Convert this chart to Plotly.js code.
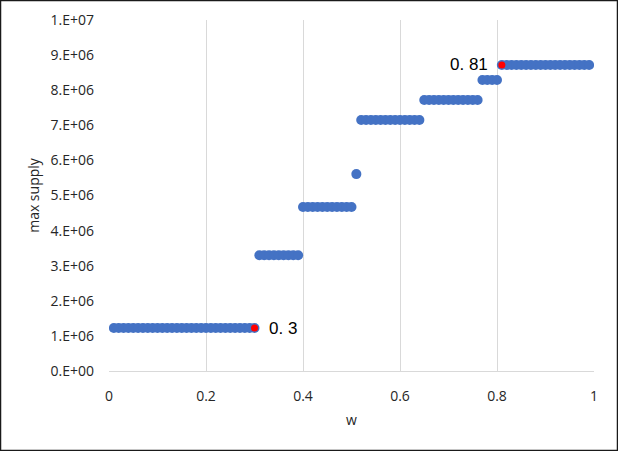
<!DOCTYPE html>
<html>
<head>
<meta charset="utf-8">
<script src="https://cdn.plot.ly/plotly-3.0.1.min.js"></script>
<style>html,body{margin:0;padding:0;background:#fff;}#chart{width:618px;height:451px;}</style>
</head>
<body>
<div id="chart"></div>
<script>
var w = [0.01,0.02,0.03,0.04,0.05,0.06,0.07,0.08,0.09,0.10,
         0.11,0.12,0.13,0.14,0.15,0.16,0.17,0.18,0.19,0.20,
         0.21,0.22,0.23,0.24,0.25,0.26,0.27,0.28,0.29,0.30,
         0.31,0.32,0.33,0.34,0.35,0.36,0.37,0.38,0.39,
         0.40,0.41,0.42,0.43,0.44,0.45,0.46,0.47,0.48,0.49,0.50,
         0.51,
         0.52,0.53,0.54,0.55,0.56,0.57,0.58,0.59,0.60,0.61,0.62,0.63,0.64,
         0.65,0.66,0.67,0.68,0.69,0.70,0.71,0.72,0.73,0.74,0.75,0.76,
         0.77,0.78,0.79,0.80,
         0.81,0.82,0.83,0.84,0.85,0.86,0.87,0.88,0.89,0.90,
         0.91,0.92,0.93,0.94,0.95,0.96,0.97,0.98,0.99];
var maxSupply = [1225000,1225000,1225000,1225000,1225000,1225000,1225000,1225000,1225000,1225000,
                 1225000,1225000,1225000,1225000,1225000,1225000,1225000,1225000,1225000,1225000,
                 1225000,1225000,1225000,1225000,1225000,1225000,1225000,1225000,1225000,1225000,
                 3300000,3300000,3300000,3300000,3300000,3300000,3300000,3300000,3300000,
                 4670000,4670000,4670000,4670000,4670000,4670000,4670000,4670000,4670000,4670000,4670000,
                 5610000,
                 7150000,7150000,7150000,7150000,7150000,7150000,7150000,7150000,7150000,7150000,7150000,7150000,7150000,
                 7720000,7720000,7720000,7720000,7720000,7720000,7720000,7720000,7720000,7720000,7720000,7720000,
                 8290000,8290000,8290000,8290000,
                 8720000,8720000,8720000,8720000,8720000,8720000,8720000,8720000,8720000,8720000,
                 8720000,8720000,8720000,8720000,8720000,8720000,8720000,8720000,8720000];
var highlightW = [0.30, 0.81];
var highlightSupply = [1225000, 8720000];
var highlightLabels = ['0. 3', '0. 81'];
var yTickVals = [0,1e6,2e6,3e6,4e6,5e6,6e6,7e6,8e6,9e6,1e7];
var yTickText = ['0.E+00','1.E+06','2.E+06','3.E+06','4.E+06','5.E+06','6.E+06','7.E+06','8.E+06','9.E+06','1.E+07'];
var xTickVals = [0,0.2,0.4,0.6,0.8,1];
var xTickText = ['0','0.2','0.4','0.6','0.8','1'];

var L=109, R=594, T=20, B=371, W=618, H=451;
var pw=R-L, ph=B-T;

var traces = [
  {x:w, y:maxSupply, type:'scatter', mode:'markers',
   marker:{color:'#4472C4', size:10, line:{width:0}}, hoverinfo:'x+y'},
  {x:highlightW, y:highlightSupply, type:'scatter', mode:'markers',
   marker:{color:'#FF0000', size:7, line:{width:0}}, hoverinfo:'x+y'}
];

var layout = {
  width:W, height:H,
  margin:{l:L, r:W-R, t:T, b:H-B, pad:0},
  paper_bgcolor:'#fff', plot_bgcolor:'#fff',
  showlegend:false,
  font:{family:'Open Sans, Liberation Sans, sans-serif', color:'#262626'},
  xaxis:{range:[0,1], tickvals:xTickVals, ticktext:xTickText, showgrid:true, gridcolor:'#d9d9d9', gridwidth:1,
         zeroline:false, showline:true, linecolor:'#d9d9d9', linewidth:1, ticks:'', ticklen:0,
         ticklabelstandoff:12,
         tickfont:{size:14, color:'#262626'},
         title:{text:'w', font:{size:14, color:'#262626'}, standoff:11}},
  yaxis:{range:[0,1e7], tickvals:yTickVals, ticktext:yTickText, showgrid:false, zeroline:false,
         showline:false, ticks:'', tickfont:{size:14, color:'#262626'},
         ticklabelstandoff:14,
         title:{text:'max supply', font:{size:14, color:'#262626'}, standoff:7}},
  annotations:[
    {x:highlightW[0], y:highlightSupply[0], xref:'x', yref:'y', text:highlightLabels[0], showarrow:false,
     xanchor:'left', xshift:12, font:{size:17, color:'#000', family:'Liberation Sans, Arial, sans-serif'}},
    {x:highlightW[1], y:highlightSupply[1], xref:'x', yref:'y', text:highlightLabels[1], showarrow:false,
     xanchor:'right', xshift:-12, font:{size:17, color:'#000', family:'Liberation Sans, Arial, sans-serif'}}
  ],
  shapes:[
    {type:'rect', xref:'paper', yref:'paper', layer:'above',
     x0:(0.5-L)/pw, x1:(W-0.5-L)/pw, y0:(B-(H-0.5))/ph, y1:(B-0.5)/ph,
     line:{color:'#1a1a1a', width:1.5}, fillcolor:'rgba(0,0,0,0)'}
  ]
};

Plotly.newPlot('chart', traces, layout, {staticPlot:true, displayModeBar:false});
</script>
</body>
</html>
